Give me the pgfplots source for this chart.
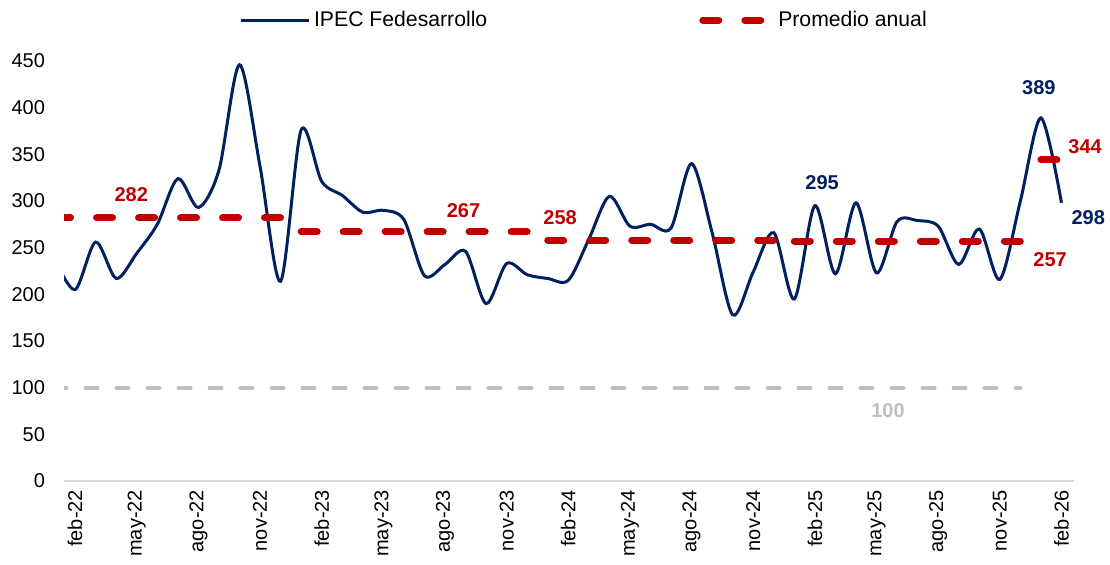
\documentclass[border=0pt]{standalone}
\usepackage{fontspec}
\setmainfont{Liberation Sans}
\usepackage{pgfplots}
\pgfplotsset{compat=1.18}
\usepackage{pgfplotstable}

\definecolor{ipec}{RGB}{0,32,96}
\definecolor{prom}{RGB}{192,0,0}
\definecolor{cien}{RGB}{191,191,191}
\definecolor{eje}{RGB}{217,217,217}

% month index: 0 = feb-22 ... 48 = feb-26
\pgfplotstableread{
m val
-1 238
0 205
1 256
2 217
3 244
4 275
5 324
6 293
7 333
8 446
9 337
10 214
11 376
12 321
13 306
14 288
15 290
16 280
17 220
18 232
19 246
20 190
21 233
22 221
23 217
24 215
25 259
26 305
27 273
28 275
29 271
30 340
31 266
32 178
33 224
34 266
35 195
36 295
37 222
38 298
39 223
40 278
41 279
42 273
43 232
44 270
45 216
46 300
47 389
48 298
}\ipec

\pgfplotstableread{
m prom
-1 282
10 282
10.5 nan
11 267
22 267
22.5 nan
23 258
34 258
34.5 nan
35 257
46 257
46.5 nan
47 344
48 344
}\prom

\begin{document}
\begin{tikzpicture}
\path[use as bounding box] (-32pt,-42pt) rectangle (523pt,240.5pt);
\begin{axis}[
    at={(0pt,0pt)}, anchor=south west,
    scale only axis,
    width=504.9pt, height=212.33pt,
    xmin=-0.54, xmax=48.6,
    ymin=0, ymax=455,
    axis x line*=bottom, axis y line*=left,
    x axis line style={eje, line width=1pt},
    y axis line style={draw=none},
    tick style={draw=none},
    ytick={0,50,...,450},
    xtick={0,3,...,48},
    xticklabels={feb-22,may-22,ago-22,nov-22,feb-23,may-23,ago-23,nov-23,feb-24,may-24,ago-24,nov-24,feb-25,may-25,ago-25,nov-25,feb-26},
    xticklabel style={rotate=90, anchor=east, xshift=-1pt, font=\fontsize{10}{12}\selectfont},
    yticklabel style={font=\fontsize{10}{12}\selectfont, xshift=-6pt},
    /pgf/number format/assume math mode=true,
    clip mode=individual,
    unbounded coords=jump,
    legend columns=2,
    legend style={draw=none, fill=none, inner sep=0pt,
        at={(0.173,1.085)}, anchor=west,
        font=\fontsize{10.6}{12}\selectfont,
        /tikz/every even column/.append style={column sep=104pt}},
    legend image code/.code={\draw[#1] (0pt,0pt) -- (34pt,0pt);},
]
\addplot[ipec, line width=1.5pt, smooth] table[x=m, y=val] {\ipec};
\addlegendentry{IPEC Fedesarrollo}
\addplot[prom, line width=3.5pt, line cap=round, dash pattern=on 8pt off 13pt] table[x=m, y=prom] {\prom};
\addlegendentry{Promedio anual}
\addplot[cien, line width=2pt, line cap=round, dash pattern=on 6pt off 9.5pt, forget plot] coordinates {(-1,100) (46,100)};

\node[prom, font=\bfseries] at (axis cs:2.73,306.4) {282};
\node[prom, font=\bfseries] at (axis cs:18.9,289.3) {267};
\node[prom, font=\bfseries] at (axis cs:23.6,281.8) {258};
\node[prom, font=\bfseries] at (axis cs:47.45,236.8) {257};
\node[prom, font=\bfseries] at (axis cs:49.15,357.9) {344};
\node[ipec, font=\bfseries] at (axis cs:36.35,319.3) {295};
\node[ipec, font=\bfseries] at (axis cs:46.9,421) {389};
\node[ipec, font=\bfseries] at (axis cs:49.3,281.8) {298};
\node[cien, font=\bfseries] at (axis cs:39.56,75) {100};
\end{axis}
\end{tikzpicture}
\end{document}
